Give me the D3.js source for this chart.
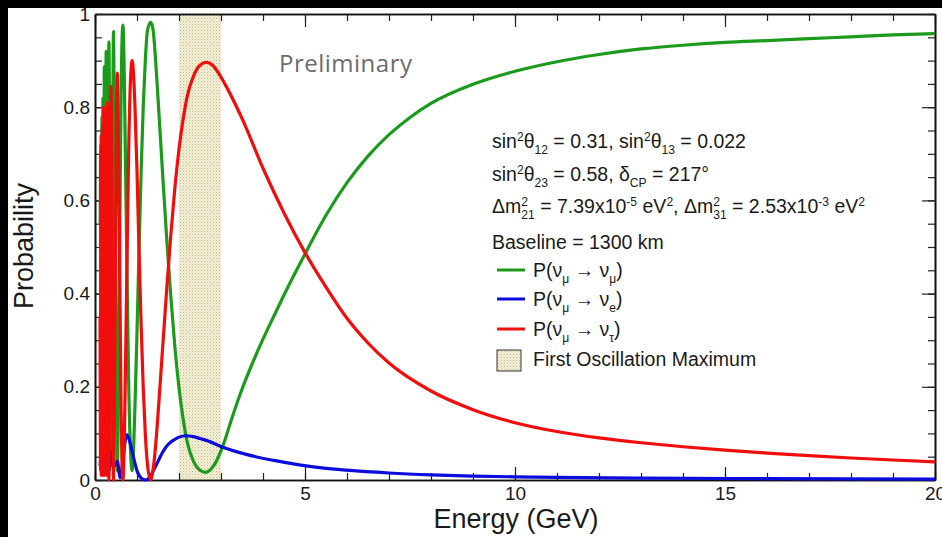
<!doctype html>
<html>
<head>
<script src="https://cdnjs.cloudflare.com/ajax/libs/d3/7.8.5/d3.min.js"></script>
<style>
  body { margin: 0; background: #fff; }
  svg { display: block; }
</style>
</head>
<body>
<svg id="chart" width="942" height="537"></svg>
<script>
// [energy GeV, probability]
const numuToNumu = [
  [0.125, 0.55], [0.1326, 0.70], [0.1397, 0.05], [0.1474, 0.74], [0.1561, 0.05], [0.1658, 0.78],
  [0.1769, 0.04], [0.1895, 0.82], [0.2041, 0.04], [0.2211, 0.887], [0.2412, 0.03], [0.2653, 0.92],
  [0.2948, 0.03], [0.3316, 0.94], [0.379, 0.03], [0.4421, 0.962], [0.48, 0.58], [0.5306, 0.02],
  [0.58, 0.43], [0.62, 0.82], [0.6632, 0.976], [0.68, 0.95], [0.70, 0.85], [0.75, 0.52], [0.80, 0.215],
  [0.85, 0.055], [0.8843, 0.02], [0.95, 0.154], [1.0, 0.317], [1.05, 0.50], [1.1, 0.668], [1.15, 0.804],
  [1.2, 0.905], [1.25, 0.965], [1.3264, 0.982], [1.38, 0.968], [1.44, 0.905], [1.5, 0.82], [1.6, 0.672],
  [1.7, 0.528], [1.8, 0.40], [1.9, 0.288], [2.0, 0.198], [2.1, 0.13], [2.2, 0.08], [2.35, 0.039],
  [2.5, 0.021], [2.63, 0.0165], [2.85, 0.034], [3.06, 0.077], [3.25, 0.13], [3.46, 0.185], [3.85, 0.272],
  [4.26, 0.352], [4.5, 0.397], [5.0, 0.485], [5.5, 0.568], [6.0, 0.638], [6.5, 0.695], [7.0, 0.741],
  [7.5, 0.778], [8.0, 0.808], [9.0, 0.849], [10, 0.877], [11, 0.8975], [12, 0.913], [13, 0.925],
  [14, 0.933], [15, 0.939], [16, 0.943], [17, 0.947], [18, 0.951], [19, 0.955], [20, 0.958]
];
const numuToNue = [
  [0.12, 0.03], [0.17, 0.06], [0.22, 0.02], [0.28, 0.06], [0.33, 0.02], [0.40, 0.06], [0.46, 0.03],
  [0.53, 0.04], [0.60, 0.005], [0.65, 0.03], [0.70, 0.072], [0.76, 0.097], [0.82, 0.085], [0.90, 0.055],
  [1.0, 0.02], [1.1, 0.004], [1.2, 0.0], [1.3, 0.005], [1.4, 0.022], [1.5, 0.04], [1.6, 0.058],
  [1.7, 0.072], [1.8, 0.081], [1.9, 0.087], [2.0, 0.092], [2.15, 0.095], [2.35, 0.093], [2.5, 0.089],
  [2.65, 0.085], [3.06, 0.07], [3.6, 0.055], [4.26, 0.042], [4.9, 0.032], [5.4, 0.026], [6, 0.021],
  [7, 0.015], [8, 0.011], [9, 0.0085], [10, 0.0068], [11, 0.0055], [13, 0.004], [16, 0.003], [20, 0.002]
];
const numuToNutau = [
  [0.12, 0.35], [0.1326, 0.02], [0.1397, 0.72], [0.1474, 0.01], [0.1561, 0.74], [0.1658, 0.02],
  [0.1769, 0.76], [0.1895, 0.01], [0.2041, 0.80], [0.2211, 0.01], [0.2412, 0.78], [0.2653, 0.01],
  [0.2948, 0.81], [0.3316, 0.0], [0.379, 0.845], [0.4421, 0.0], [0.48, 0.39], [0.5306, 0.873],
  [0.58, 0.54], [0.62, 0.16], [0.6632, 0.0], [0.68, 0.021], [0.70, 0.094], [0.75, 0.394], [0.80, 0.698],
  [0.85, 0.868], [0.8843, 0.90], [0.95, 0.806], [1.0, 0.663], [1.05, 0.488], [1.1, 0.328], [1.15, 0.194],
  [1.2, 0.095], [1.25, 0.033], [1.3264, 0.0], [1.38, 0.02], [1.44, 0.07], [1.5, 0.14], [1.6, 0.27],
  [1.7, 0.40], [1.8, 0.52], [1.9, 0.625], [2.0, 0.71], [2.1, 0.775], [2.2, 0.825], [2.35, 0.868],
  [2.5, 0.89], [2.65, 0.896], [2.8, 0.89], [2.95, 0.872], [3.14, 0.842], [3.5, 0.776], [4.0, 0.669],
  [4.5, 0.573], [5.0, 0.488], [5.5, 0.414], [6.0, 0.347], [6.5, 0.294], [7.0, 0.251], [8.0, 0.191],
  [9.0, 0.151], [10, 0.123], [11, 0.104], [12, 0.0903], [13, 0.0799], [14, 0.0714], [15, 0.064],
  [16, 0.0578], [17, 0.0522], [18, 0.0472], [19, 0.0429], [20, 0.039]
];

const xMajorTicks = [0, 5, 10, 15, 20];
const xMinorTicks = d3.range(0, 21, 1);
const yMajorTicks = [0, 0.2, 0.4, 0.6, 0.8, 1];
const yMinorTicks = d3.range(0, 1.001, 0.05);
const yTickLabels = ["0", "0.2", "0.4", "0.6", "0.8", "1"];
const firstOscMax = [2, 3];

const paramLines = [
  [["sin"], ["2", "sup"], ["θ"], ["12", "sub"], [" = 0.31, sin"], ["2", "sup"], ["θ"], ["13", "sub"], [" = 0.022"]],
  [["sin"], ["2", "sup"], ["θ"], ["23", "sub"], [" = 0.58, δ"], ["CP", "sub"], [" = 217°"]],
  [["Δm"], ["2", "sup"], ["21", "under"], [" = 7.39x10"], ["-5", "sup"], [" eV"], ["2", "sup"], [", Δm"],
   ["2", "sup"], ["31", "under"], [" = 2.53x10"], ["-3", "sup"], [" eV"], ["2", "sup"]],
  [["Baseline = 1300 km"]]
];
const legendItems = [
  { color: "#1c9a1c", to: "μ" },
  { color: "#0c0cdc", to: "e" },
  { color: "#f20d0d", to: "τ" }
];

const svg = d3.select("#chart");
const x = d3.scaleLinear().domain([0, 20]).range([95, 935]);
const y = d3.scaleLinear().domain([0, 1]).range([480, 14]);
const font = "'Liberation Sans', Arial, Helvetica, sans-serif";

svg.append("rect").attr("width", 942).attr("height", 537).attr("fill", "#fff");

const defs = svg.append("defs");
const pat = defs.append("pattern").attr("id", "dots")
  .attr("width", 3).attr("height", 3).attr("patternUnits", "userSpaceOnUse");
pat.append("rect").attr("width", 3).attr("height", 3).attr("fill", "#f2efd6");
pat.append("rect").attr("width", 1).attr("height", 1).attr("fill", "#c4bc88");
pat.append("rect").attr("x", 1.5).attr("y", 1.5).attr("width", 1).attr("height", 1).attr("fill", "#dcd6ad");

defs.append("clipPath").attr("id", "plot")
  .append("rect").attr("x", x(0)).attr("y", y(1) - 4)
  .attr("width", x(20) - x(0)).attr("height", y(0) - y(1) + 8);

// first oscillation maximum band
svg.append("rect")
  .attr("x", x(firstOscMax[0])).attr("y", y(1))
  .attr("width", x(firstOscMax[1]) - x(firstOscMax[0]))
  .attr("height", y(0) - y(1))
  .attr("fill", "url(#dots)");

// axes, ticks pointing inward
function addAxis(axis, tr, ticks, size, fmt, pad) {
  const g = svg.append("g").attr("transform", tr)
    .call(axis.tickValues(ticks).tickSize(-size).tickSizeOuter(0).tickPadding(pad || 3).tickFormat(fmt));
  g.attr("font-family", font).attr("font-size", 19);
  g.select(".domain").attr("stroke", "#111").attr("stroke-width", 1.6);
  g.selectAll(".tick line").attr("stroke", "#222").attr("stroke-width", 1.2);
  g.selectAll(".tick text").attr("fill", "#1a1a1a");
  return g;
}
const none = () => "";
addAxis(d3.axisBottom(x), `translate(0,${y(0)})`, xMinorTicks, 7, none);
addAxis(d3.axisBottom(x), `translate(0,${y(0)})`, xMajorTicks, 13, d3.format("d"), 7);
addAxis(d3.axisTop(x), `translate(0,${y(1)})`, xMinorTicks, 7, none);
addAxis(d3.axisTop(x), `translate(0,${y(1)})`, xMajorTicks, 13, none);
addAxis(d3.axisLeft(y), `translate(${x(0)},0)`, yMinorTicks, 7, none);
addAxis(d3.axisLeft(y), `translate(${x(0)},0)`, yMajorTicks, 13, (d, i) => yTickLabels[i], 5);
addAxis(d3.axisRight(y), `translate(${x(20)},0)`, yMinorTicks, 7, none);
addAxis(d3.axisRight(y), `translate(${x(20)},0)`, yMajorTicks, 13, none);

// curves
const line = d3.line().x(d => x(d[0])).y(d => y(d[1])).curve(d3.curveMonotoneX);
const curves = svg.append("g").attr("clip-path", "url(#plot)");
[[numuToNumu, legendItems[0].color], [numuToNue, legendItems[1].color], [numuToNutau, legendItems[2].color]]
  .forEach(([data, color]) => {
    curves.append("path").datum(data).attr("d", line)
      .attr("fill", "none").attr("stroke", color)
      .attr("stroke-width", 3.2).attr("stroke-linejoin", "round");
  });

// text with super/subscripts
function richText(parent, segs, x0, y0, size) {
  const t = parent.append("text").attr("x", x0).attr("y", y0)
    .attr("font-family", font).attr("font-size", size).attr("fill", "#1a1a1a");
  let off = 0, lastSup = null;
  segs.forEach(([s, k]) => {
    const target = k === "sup" ? -7.5 : (k === "sub" || k === "under") ? 5.5 : 0;
    const ts = t.append("tspan").text(s).attr("dy", target - off);
    if (k) ts.attr("font-size", size * 0.62);
    if (k === "under" && lastSup) ts.attr("dx", -lastSup.node().getComputedTextLength());
    off = target;
    if (k === "sup") lastSup = ts;
  });
  return t;
}

const legend = svg.append("g");
const paramY = [148, 181, 213, 249];
paramLines.forEach((segs, i) => richText(legend, segs, 492, paramY[i], 19.5));

const entryY = [270, 299, 329];
legendItems.forEach((it, i) => {
  legend.append("line").attr("x1", 497).attr("x2", 525).attr("y1", entryY[i]).attr("y2", entryY[i])
    .attr("stroke", it.color).attr("stroke-width", 3);
  richText(legend, [["P(ν"], ["μ", "sub"], [" → ν"], [it.to, "sub"], [")"]], 533, entryY[i] + 7, 19.5);
});
legend.append("rect").attr("x", 497).attr("y", 350).attr("width", 24).attr("height", 21)
  .attr("fill", "url(#dots)").attr("stroke", "#333").attr("stroke-width", 1);
richText(legend, [["First Oscillation Maximum"]], 533, 366, 19.5);

// axis titles
svg.append("text").attr("transform", "translate(33,246) rotate(-90)")
  .attr("text-anchor", "middle").attr("font-family", font).attr("font-size", 27)
  .attr("fill", "#1a1a1a").text("Probability");
svg.append("text").attr("x", 516).attr("y", 528)
  .attr("text-anchor", "middle").attr("font-family", font).attr("font-size", 27)
  .attr("fill", "#1a1a1a").text("Energy (GeV)");

svg.append("text").attr("x", 279).attr("y", 72)
  .attr("font-family", "'Open Sans', 'Noto Sans', sans-serif").attr("font-size", 24)
  .attr("letter-spacing", 0.5).attr("fill", "#6c6c6c").text("Preliminary");

// dark border of the screenshot
svg.append("rect").attr("width", 942).attr("height", 8).attr("fill", "#000");
svg.append("rect").attr("width", 8).attr("height", 537).attr("fill", "#000");
</script>
</body>
</html>
